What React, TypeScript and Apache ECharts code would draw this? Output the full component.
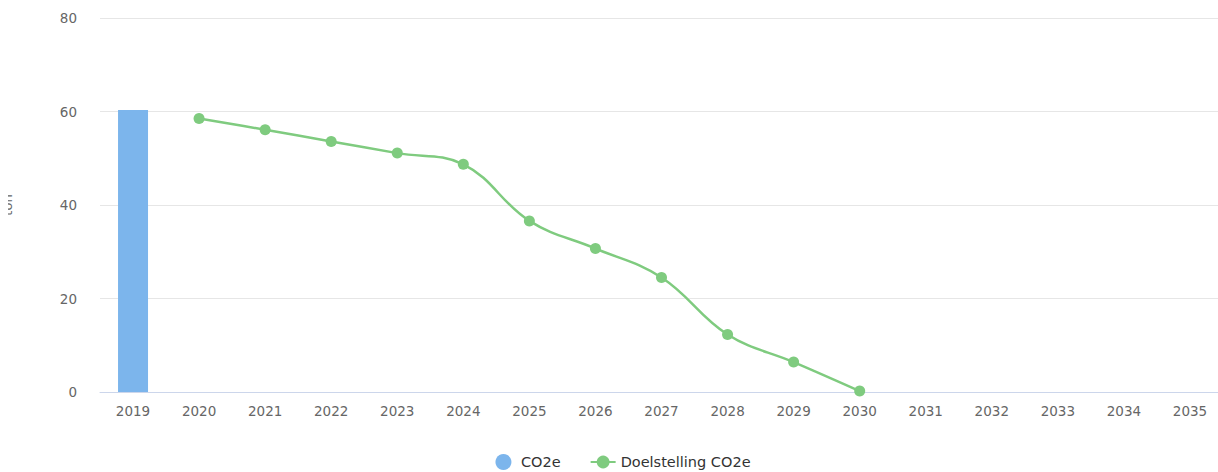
import React, { useEffect, useRef } from "react";
import * as echarts from "echarts";

const years = ["2019","2020","2021","2022","2023","2024","2025","2026","2027","2028","2029","2030","2031","2032","2033","2034","2035"];
const co2e: (number | string)[] = [60.3, "-", "-", "-", "-", "-", "-", "-", "-", "-", "-", "-", "-", "-", "-", "-", "-"];
const target: (number | string)[] = ["-", 58.5, 56.1, 53.6, 51.1, 48.7, 36.6, 30.7, 24.5, 12.3, 6.4, 0.2, "-", "-", "-", "-", "-"];
const yTicks = { min: 0, max: 80, interval: 20 };

export default function App() {
  const ref = useRef<HTMLDivElement>(null);
  useEffect(() => {
    if (!ref.current) return;
    const chart = echarts.init(ref.current, undefined, { renderer: "svg" });
    const font = "DejaVu Sans, Verdana, sans-serif";
    chart.setOption({
      animation: false,
      textStyle: { fontFamily: font },
      grid: { left: 100, top: 18, width: 1123, height: 374, containLabel: false, outerBoundsMode: "none" },
      legend: {
        top: 449,
        left: "center",
        itemGap: 29,
        itemWidth: 25,
        itemHeight: 16,
        textStyle: { fontFamily: font, fontSize: 14.5, color: "#333" },
        data: [
          { name: "CO2e", icon: "circle", itemStyle: { color: "#7cb5ec" } },
          { name: "Doelstelling CO2e" },
        ],
      },
      xAxis: {
        type: "category",
        data: years,
        axisLine: { lineStyle: { color: "#ccd6eb" } },
        axisTick: { show: false },
        axisLabel: { color: "#666", fontSize: 13.5, margin: 12, fontFamily: font },
      },
      yAxis: {
        type: "value",
        min: yTicks.min,
        max: yTicks.max,
        interval: yTicks.interval,
        name: "ton",
        nameLocation: "middle",
        nameRotate: 90,
        nameGap: 86,
        nameTextStyle: { color: "#666", fontSize: 13 },
        axisLine: { show: false },
        axisTick: { show: false },
        splitLine: { lineStyle: { color: "#e6e6e6" } },
        axisLabel: { color: "#666", fontSize: 13.5, margin: 23, fontFamily: font },
      },
      series: [
        {
          name: "CO2e",
          type: "bar",
          data: co2e,
          barWidth: 30,
          itemStyle: { color: "#7cb5ec" },
        },
        {
          name: "Doelstelling CO2e",
          type: "line",
          data: target,
          smooth: 0.4,
          symbol: "circle",
          symbolSize: 11,
          lineStyle: { color: "#7fcb7f", width: 2.5 },
          itemStyle: { color: "#7fcb7f" },
        },
      ],
    });
    return () => chart.dispose();
  }, []);
  return (
    <div style={{ position: "absolute", left: 8, top: 0, width: 1210, height: 472, overflow: "hidden" }}>
      <div ref={ref} style={{ position: "absolute", left: -8, top: 0, width: 1246, height: 472 }} />
    </div>
  );
}
